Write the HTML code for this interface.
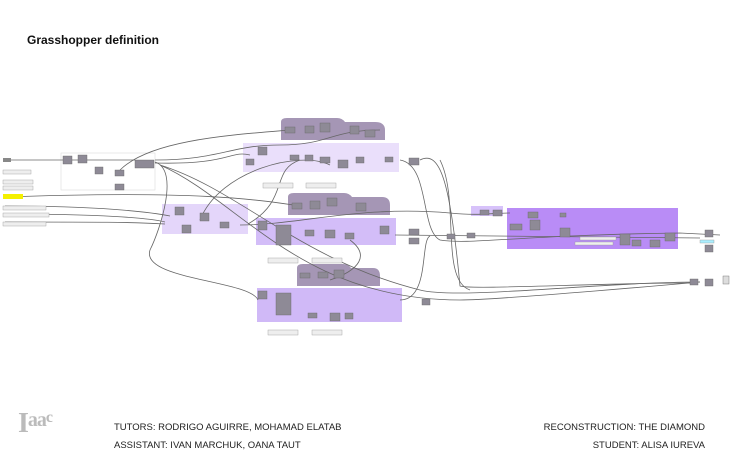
<!DOCTYPE html>
<html><head><style>
body{margin:0;background:#fff;width:730px;height:456px;overflow:hidden;font-family:"Liberation Sans",sans-serif}
.t{position:absolute;font-family:"Liberation Sans",sans-serif;color:#222}
</style></head><body>
<div class="t" style="left:27px;top:33px;font-size:12px;font-weight:bold;color:#111">Grasshopper definition</div>
<svg width="730" height="456" style="position:absolute;left:0;top:0">
<g fill="none" stroke="#777" stroke-width="1">
<rect x="61" y="153" width="94" height="37" stroke="#ddd" stroke-width="0.6"/>
</g>
<!-- groups -->
<rect x="243" y="143" width="156" height="29" fill="#eadffb"/>
<path d="M281 122 q0 -4 6 -4 h50 q5 0 8 4 h30 q10 0 10 8 v10 h-104 z" fill="#a596b5"/>
<rect x="162" y="204" width="86" height="30" fill="#e4d6fa"/>
<rect x="256" y="218" width="140" height="27" fill="#d3bdf8"/>
<path d="M288 197 q0 -4 6 -4 h50 q5 0 8 4 h30 q8 0 8 8 v10 h-102 z" fill="#a596b5"/>
<rect x="257" y="288" width="145" height="34" fill="#d0b9f7"/>
<path d="M297 268 q0 -4 6 -4 h40 q5 0 8 4 h22 q7 0 7 8 v10 h-83 z" fill="#a596b5"/>
<rect x="471" y="206" width="32" height="10" fill="#d7c2fa"/>
<rect x="507" y="208" width="171" height="41" fill="#b98cf6"/>
<!-- wires -->
<g fill="none" stroke="#666" stroke-width="0.8">
<path d="M5 160 H135"/><path d="M155 160 C220 160 230 145 280 145 S330 130 380 130"/>
<path d="M155 163 C230 165 230 150 250 155"/>
<path d="M155 162 C180 170 160 230 150 250 C140 280 250 280 258 300"/>
<path d="M160 165 C240 190 300 260 420 290 C460 300 600 282 700 282"/>
<path d="M160 165 C240 200 300 300 460 300 C500 300 700 282 700 282"/>
<path d="M5 197 C200 190 260 200 300 206"/>
<path d="M5 206 C100 206 150 212 170 216"/>
<path d="M5 214 C100 214 150 218 165 222"/>
<path d="M5 222 C100 222 130 222 165 224"/>
<path d="M240 225 C300 225 360 205 450 213 C480 216 490 213 510 213"/>
<path d="M248 224 C290 200 270 170 300 160"/>
<path d="M400 160 C430 165 420 230 440 240 C470 245 520 235 680 233 L720 235"/>
<path d="M395 235 L700 238"/>
<path d="M400 300 C430 300 420 240 430 236"/>
<path d="M440 160 C460 200 440 280 470 290"/>
<path d="M200 220 C220 170 300 150 330 165"/>
<path d="M420 160 C440 150 450 180 460 286 C470 290 600 283 690 283"/>
<path d="M120 170 C150 140 230 135 290 130"/>
<path d="M350 240 C370 255 360 270 330 280"/>
</g>
<!-- nodes -->
<g fill="#8e8a96" stroke="#666" stroke-width="0.4">
<rect x="63" y="156" width="9" height="8"/><rect x="78" y="155" width="9" height="8"/>
<rect x="95" y="167" width="8" height="7"/><rect x="115" y="170" width="9" height="6"/><rect x="115" y="184" width="9" height="6"/>
<rect x="135" y="160" width="19" height="8"/>
<rect x="175" y="207" width="9" height="8"/><rect x="200" y="213" width="9" height="8"/><rect x="182" y="225" width="9" height="8"/><rect x="220" y="222" width="9" height="6"/>
<rect x="258" y="147" width="9" height="8"/><rect x="246" y="159" width="8" height="6"/><rect x="290" y="155" width="9" height="5"/><rect x="305" y="155" width="8" height="6"/><rect x="320" y="157" width="10" height="6"/><rect x="338" y="160" width="10" height="8"/><rect x="356" y="157" width="8" height="6"/><rect x="385" y="157" width="8" height="5"/><rect x="409" y="158" width="10" height="7"/>
<rect x="285" y="127" width="10" height="6"/><rect x="305" y="126" width="9" height="7"/><rect x="320" y="123" width="10" height="9"/><rect x="350" y="126" width="9" height="8"/><rect x="365" y="130" width="10" height="7"/>
<rect x="258" y="221" width="9" height="9"/><rect x="276" y="225" width="15" height="20"/><rect x="305" y="230" width="9" height="6"/><rect x="325" y="230" width="10" height="8"/><rect x="345" y="233" width="9" height="6"/><rect x="380" y="226" width="9" height="8"/><rect x="409" y="229" width="10" height="6"/><rect x="409" y="238" width="10" height="6"/>
<rect x="292" y="203" width="10" height="6"/><rect x="310" y="201" width="10" height="8"/><rect x="327" y="198" width="10" height="8"/><rect x="356" y="203" width="10" height="8"/>
<rect x="258" y="291" width="9" height="8"/><rect x="276" y="293" width="15" height="22"/><rect x="308" y="313" width="9" height="5"/><rect x="330" y="313" width="10" height="8"/><rect x="345" y="313" width="8" height="6"/>
<rect x="300" y="273" width="10" height="5"/><rect x="318" y="272" width="10" height="6"/><rect x="334" y="270" width="10" height="8"/><rect x="422" y="299" width="8" height="6"/>
<rect x="447" y="234" width="8" height="5"/><rect x="467" y="233" width="8" height="5"/>
<rect x="480" y="210" width="9" height="5"/><rect x="493" y="210" width="9" height="6"/>
<rect x="510" y="224" width="12" height="6"/><rect x="528" y="212" width="10" height="6"/><rect x="530" y="220" width="10" height="10"/><rect x="560" y="213" width="6" height="4"/><rect x="560" y="228" width="10" height="9"/><rect x="620" y="234" width="10" height="11"/><rect x="632" y="240" width="9" height="6"/><rect x="650" y="240" width="10" height="7"/><rect x="665" y="233" width="10" height="8"/>
<rect x="705" y="230" width="8" height="7"/><rect x="705" y="245" width="8" height="7"/><rect x="705" y="279" width="8" height="7"/><rect x="690" y="279" width="8" height="6"/><rect x="723" y="276" width="6" height="8" fill="#ddd"/>
</g>
<g fill="#eee" stroke="#999" stroke-width="0.4">
<rect x="3" y="170" width="28" height="4"/><rect x="3" y="180" width="30" height="4"/><rect x="3" y="186" width="30" height="4"/>
<rect x="3" y="206" width="43" height="4"/><rect x="3" y="213" width="46" height="4"/><rect x="3" y="222" width="43" height="4"/>
<rect x="263" y="183" width="30" height="5"/><rect x="306" y="183" width="30" height="5"/><rect x="268" y="258" width="30" height="5"/><rect x="312" y="258" width="30" height="5"/>
<rect x="268" y="330" width="30" height="5"/><rect x="312" y="330" width="30" height="5"/>
<rect x="580" y="237" width="36" height="3"/><rect x="575" y="242" width="38" height="3"/><rect x="700" y="240" width="14" height="3" fill="#aef"/>
</g>
<rect x="3" y="194" width="20" height="5" fill="#f4f000"/>
<rect x="3" y="158" width="8" height="4" fill="#888"/>
</svg>
<div class="t" style="left:18px;top:408px;font-size:28px;font-weight:bold;color:#bbb;font-family:'Liberation Serif',serif;letter-spacing:-1px">I<span style="font-size:20px;vertical-align:6px">aa</span><span style="font-size:16px;vertical-align:10px">c</span></div>
<div class="t" style="left:114px;top:422px;font-size:9.5px">TUTORS: RODRIGO AGUIRRE, MOHAMAD ELATAB</div>
<div class="t" style="left:114px;top:440px;font-size:9.5px">ASSISTANT: IVAN MARCHUK, OANA TAUT</div>
<div class="t" style="right:25px;top:422px;font-size:9.5px">RECONSTRUCTION: THE DIAMOND</div>
<div class="t" style="right:25px;top:440px;font-size:9.5px">STUDENT: ALISA IUREVA</div>
</body></html>
